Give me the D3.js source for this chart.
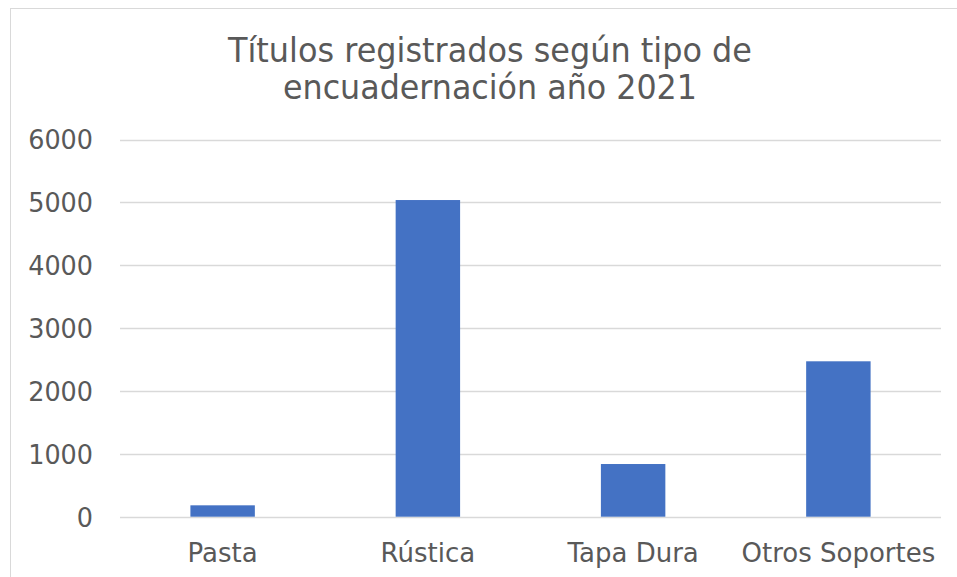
<!DOCTYPE html>
<html>
<head>
<meta charset="utf-8">
<script src="https://cdn.jsdelivr.net/npm/d3@7"></script>
<style>
  body { margin: 0; background: #fff; }
  text { font-family: "DejaVu Sans", Verdana, sans-serif; fill: #595959; }
</style>
</head>
<body>
<div id="chart"></div>
<script>
    var categories = ["Pasta", "Rústica", "Tapa Dura", "Otros Soportes"];
    var values = [181, 5037, 838, 2472];
    var yTicks = [0, 1000, 2000, 3000, 4000, 5000, 6000];
    var titleLines = ["Títulos registrados según tipo de", "encuadernación año 2021"];

    var width = 957, height = 577;
    var plot = { left: 120, right: 941, top: 139.5, bottom: 516.7 };

    var svg = d3.select("#chart")
        .append("svg")
        .attr("width", width)
        .attr("height", height);

    //chart area border
    svg.append("rect")
        .attr("x", 10.5)
        .attr("y", 8.5)
        .attr("width", 980)
        .attr("height", 600)
        .attr("fill", "none")
        .attr("stroke", "#d9d9d9")
        .attr("stroke-width", 1);

    //title (reference glyphs are horizontally squeezed)
    var titleWidths = [524, 414];
    svg.selectAll("text.title")
        .data(titleLines)
        .enter()
        .append("text")
        .attr("class", "title")
        .attr("x", 490)
        .attr("y", function(d, i) { return 62 + i * 37; })
        .attr("text-anchor", "middle")
        .attr("font-size", 33)
        .attr("textLength", function(d, i) { return titleWidths[i]; })
        .attr("lengthAdjust", "spacingAndGlyphs")
        .text(function(d) { return d; });

    var x = d3.scaleBand()
        .domain(categories)
        .range([plot.left, plot.right])
        .paddingInner(0.686)
        .paddingOuter(0.343);

    var y = d3.scaleLinear()
        .domain([0, 6000])
        .range([plot.bottom, plot.top]);

    //gridlines
    svg.append("g")
        .selectAll("line")
        .data(yTicks)
        .enter()
        .append("line")
        .attr("x1", plot.left)
        .attr("x2", plot.right)
        .attr("y1", function(d) { return Math.round(y(d)) + 0.5; })
        .attr("y2", function(d) { return Math.round(y(d)) + 0.5; })
        .attr("stroke", "#d9d9d9")
        .attr("stroke-width", 1.5);

    //y axis labels
    var yAxis = d3.axisLeft(y)
        .tickValues(yTicks)
        .tickSize(0)
        .tickPadding(0)
        .tickFormat(d3.format("d"));

    var yg = svg.append("g")
        .attr("transform", "translate(93,0)")
        .call(yAxis);
    yg.select(".domain").remove();
    yg.selectAll("text")
        .attr("font-size", 26)
        .attr("font-family", null)
        .attr("fill", "#595959")
        .attr("dy", "0.36em")
        .attr("textLength", function(d) { return String(d).length * 16.2; })
        .attr("lengthAdjust", "spacingAndGlyphs");

    //bars
    svg.append("g")
        .selectAll("rect")
        .data(values)
        .enter()
        .append("rect")
        .attr("x", function(d, i) { return x(categories[i]); })
        .attr("width", x.bandwidth())
        .attr("y", function(d) { return y(d); })
        .attr("height", function(d) { return y(0) - y(d); })
        .attr("fill", "#4472c4");

    //category labels
    var xAxis = d3.axisBottom(x).tickSize(0).tickPadding(0);
    var xg = svg.append("g")
        .attr("transform", "translate(0,561.5)")
        .call(xAxis);
    xg.select(".domain").remove();
    xg.selectAll("text")
        .attr("font-size", 26)
        .attr("font-family", null)
        .attr("fill", "#595959")
        .attr("dy", 0);
</script>
</body>
</html>
